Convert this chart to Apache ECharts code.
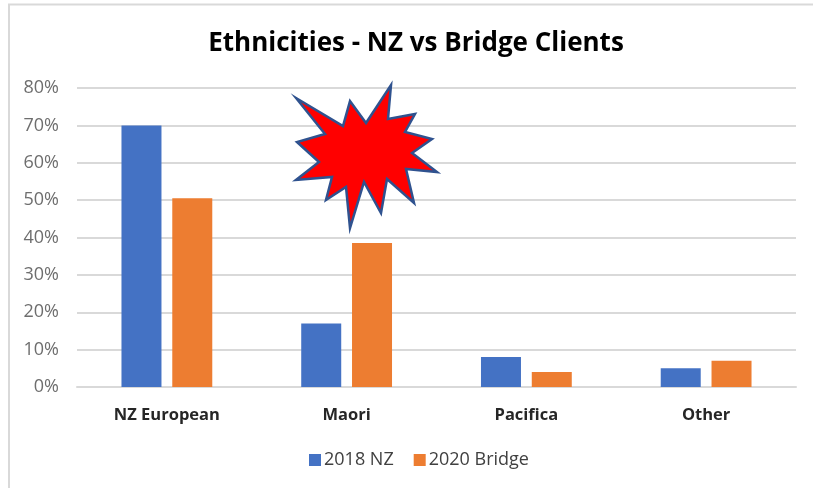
<!DOCTYPE html>
<html>
<head>
<meta charset="utf-8">
<style>
  html, body { margin: 0; padding: 0; background: #fff; }
  #chart { width: 813px; height: 488px; }
</style>
<script src="https://cdn.jsdelivr.net/npm/echarts@6/dist/echarts.min.js"></script>
</head>
<body>
<div id="chart"></div>
<script>
const categories = ['NZ European', 'Maori', 'Pacifica', 'Other']
const nz2018 = [70, 17, 8, 5]
const bridge2020 = [50.5, 38.5, 4, 7]
const yTicks = [0, 10, 20, 30, 40, 50, 60, 70, 80]

// pasted-on burst shape, picture pixels
const burstPoints = [
  [296, 98], [343, 126], [350, 101], [366, 123], [391, 85], [388, 119], [415, 114], [405, 132],
  [432, 139], [412, 153], [437, 172], [406, 169], [414, 203], [387, 179], [381, 213], [364, 182],
  [350, 228], [346, 187], [326, 200], [332, 177], [296, 180], [319, 162], [297, 142], [325, 134]
]

const chart = echarts.init(document.getElementById('chart'))
chart.setOption({
  animation: false,
  backgroundColor: '#fff',
  textStyle: { fontFamily: 'Open Sans' },
  title: {
    text: 'Ethnicities - NZ vs Bridge Clients',
    left: 411,
    top: 26,
    textAlign: 'center',
    textStyle: { fontSize: 26, fontWeight: 'bold', color: '#000', fontFamily: 'Open Sans' }
  },
  legend: {
    data: ['2018 NZ', '2020 Bridge'],
    left: 304,
    top: 446,
    itemWidth: 12,
    itemHeight: 12,
    itemGap: 20,
    icon: 'rect',
    textStyle: { fontSize: 18, color: '#404040', padding: [0, 0, 0, -2] }
  },
  grid: { left: 77, right: 17, top: 88, bottom: 101 },
  xAxis: {
    type: 'category',
    data: categories,
    axisTick: { show: false },
    axisLine: { lineStyle: { color: '#d9d9d9', width: 2 } },
    axisLabel: { fontSize: 16.5, fontWeight: 'bold', color: '#262626', margin: 20 }
  },
  yAxis: {
    type: 'value',
    min: yTicks[0],
    max: yTicks[yTicks.length - 1],
    interval: 10,
    axisLabel: { formatter: '{value}%', fontSize: 18, color: '#6e6e6e', margin: 18, padding: [3, 0, 0, 0] },
    axisLine: { show: false },
    axisTick: { show: false },
    splitLine: { lineStyle: { color: '#d9d9d9', width: 2 } }
  },
  series: [
    { name: '2018 NZ', type: 'bar', data: nz2018, barWidth: 40, barGap: '27%', itemStyle: { color: '#4472c4' } },
    { name: '2020 Bridge', type: 'bar', data: bridge2020, barWidth: 40, itemStyle: { color: '#ed7d31' } }
  ],
  graphic: [
    // chart frame, open on the right and bottom
    { type: 'polyline', silent: true, z: 10, shape: { points: [[9, 488], [9, 4.5], [813, 4.5]] }, style: { fill: null, stroke: '#d9d9d9', lineWidth: 2 } },
    { type: 'polygon', silent: true, z: 10, shape: { points: burstPoints }, style: { fill: '#ff0000', stroke: '#2f528f', lineWidth: 2.5 } }
  ]
})
</script>
</body>
</html>
